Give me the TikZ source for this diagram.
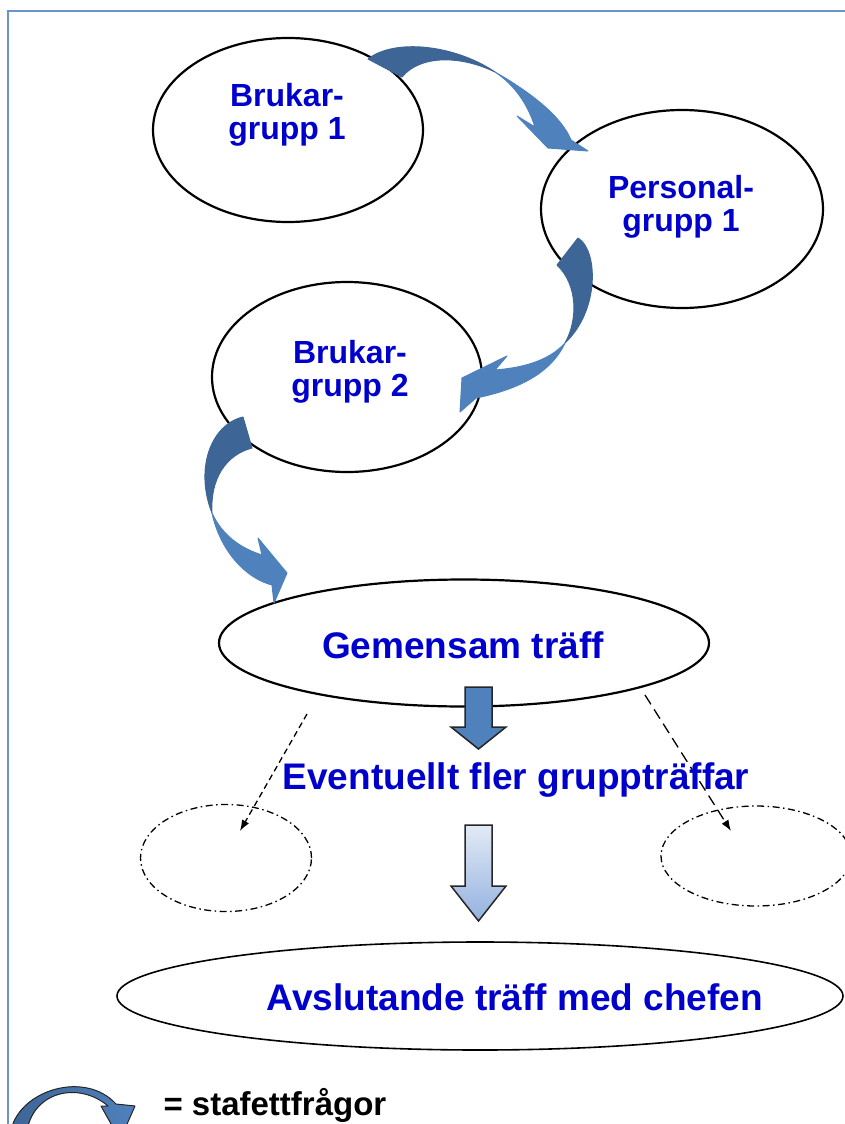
\documentclass[tikz,border=0pt]{standalone}
\usepackage{fontspec}
\setmainfont{Liberation Sans}
\usetikzlibrary{shapes.geometric,arrows.meta}
\definecolor{relayblue}{HTML}{4F81BD}
\definecolor{relaydark}{HTML}{3D6596}
\definecolor{txtblue}{HTML}{0000CC}
\definecolor{framecol}{HTML}{6A93CB}
\definecolor{gradtop}{HTML}{E2EAF5}
\definecolor{gradbot}{HTML}{94B1E0}
\begin{document}
\begin{tikzpicture}[x=1pt,y=-1pt,
  grp/.style={ellipse, draw, line width=2.2pt, inner sep=0pt},
  optgrp/.style={ellipse, draw, line width=1.3pt, dash pattern=on 7pt off 3.5pt on 1.5pt off 3.5pt, inner sep=0pt},
  lbl/.style={text=txtblue, font=\fontsize{32}{33}\selectfont\bfseries, align=center},
  biglbl/.style={text=txtblue, font=\fontsize{37}{40}\selectfont\bfseries},
  relay/.style={draw=black!85, line width=1pt, line join=round},
  blockarrow/.style={draw=black!85, line width=1.5pt, line join=miter},
  hint/.style={line width=1.3pt, -{Latex[length=11pt,width=8pt]}}]
\useasboundingbox (0,0) rectangle (845,1124);
\clip (0,0) rectangle (845,1124);
\draw[framecol, line width=2.8pt] (8,1124) -- (8,11) -- (845,11);

% groups
\node[grp, minimum width=270pt, minimum height=184pt] (bg1) at (288,130) {};
\node[grp, minimum width=282pt, minimum height=198pt] (pg1) at (682,209) {};
\node[grp, minimum width=270pt, minimum height=190pt] (bg2) at (347,377) {};
\node[grp, minimum width=490pt, minimum height=127pt] (gem) at (464,643) {};
\node[optgrp, minimum width=171pt, minimum height=107pt] (optl) at (226,858) {};
\node[optgrp, minimum width=190pt, minimum height=100pt] (optr) at (756,856) {};
\node[grp, line width=1.6pt, minimum width=726pt, minimum height=108pt] (avs) at (480,996) {};

% stafett arrows
\fill[relay, relaydark] (368,59) .. controls (395,38) and (455,45) .. (495,72)
  .. controls (460,55) and (420,55) .. (402,77) -- cycle;
\fill[relay, relayblue] (495,72) .. controls (535,95) and (562,118) .. (571,140)
  -- (588,151) -- (548,148) -- (517,116) -- (535,127)
  .. controls (528,105) and (515,85) .. (495,72) -- cycle;
\fill[relay, relaydark] (578,238) .. controls (598,250) and (600,310) .. (565,343)
  .. controls (578,320) and (578,285) .. (557,265) -- cycle;
\fill[relay, relayblue] (565,343) .. controls (548,362) and (520,368) .. (495,370)
  -- (507,356) -- (462,378) -- (460,412) -- (476,398)
  .. controls (515,390) and (550,375) .. (565,343) -- cycle;
\fill[relay, relaydark] (243,417) .. controls (210,425) and (195,470) .. (212,513)
  .. controls (210,480) and (225,455) .. (252,448) -- cycle;
\fill[relay, relayblue] (212,513) .. controls (222,535) and (240,548) .. (262,555)
  -- (258,538) -- (287,573) -- (274,603) -- (272,585)
  .. controls (245,578) and (220,550) .. (212,513) -- cycle;

% down arrows
\draw[blockarrow, fill=relayblue] (465,687) -- (492,687) -- (492,727) -- (506,727)
  -- (478.5,749) -- (451,727) -- (465,727) -- cycle;
\draw[blockarrow, top color=gradtop, bottom color=gradbot] (465,825) -- (492,825)
  -- (492,886) -- (506,886) -- (478.5,921) -- (451,886) -- (465,886) -- cycle;

% optional groups
\coordinate (dl) at (307,714);
\coordinate (dle) at (240,831);
\coordinate (dr) at (645,695);
\coordinate (dre) at (731,831);
\draw[hint, dash pattern=on 6pt off 4pt] (dl) -- (dle);
\draw[hint, dash pattern=on 11pt off 6pt] (dr) -- (dre);

% texts
\node[lbl] (tb1) at (287,115) {Brukar-\\grupp 1};
\node[lbl] (tp1) at (681,207) {Personal-\\grupp 1};
\node[lbl] (tb2) at (350,372) {Brukar-\\grupp 2};
\node[biglbl] (tgem) at (463,645) {Gemensam träff};
\node[biglbl] (tfler) at (516,780) {Eventuellt fler gruppträffar};
\node[biglbl] (tavs) at (515,997) {Avslutande träff med chefen};

% legend
\fill[relay, left color=relaydark, right color=relayblue] (11,1130)
  .. controls (20,1090) and (85,1070) .. (116,1104) -- (135,1106) -- (120,1140)
  -- (101,1106) -- (108,1106) .. controls (80,1082) and (35,1090) .. (27,1130) -- cycle;
\node[anchor=west, font=\fontsize{33}{35}\selectfont\bfseries] (leg) at (160,1105) {= stafettfrågor};
\end{tikzpicture}
\end{document}
